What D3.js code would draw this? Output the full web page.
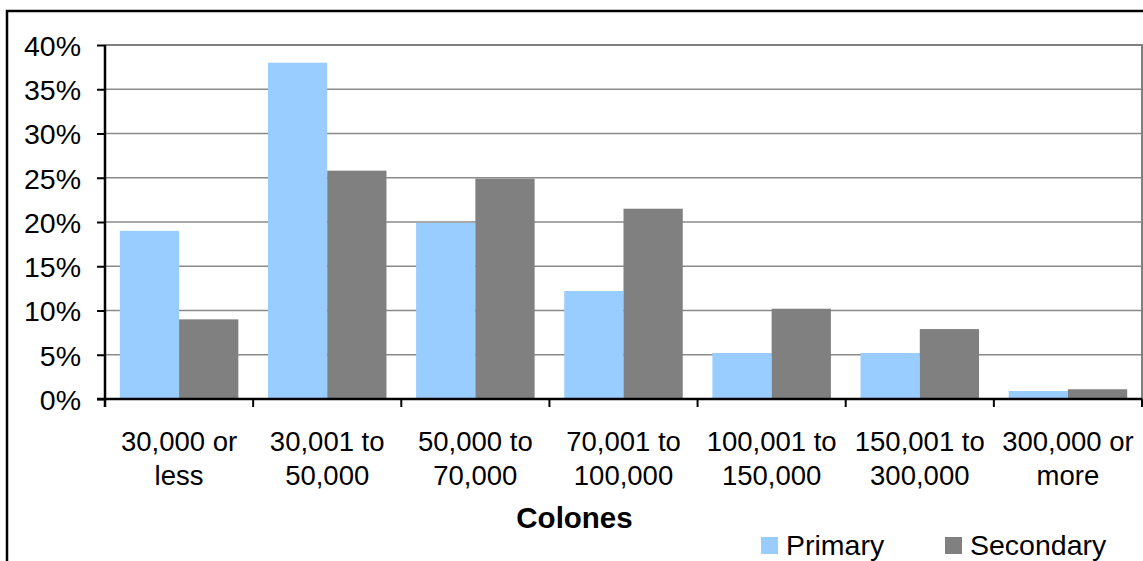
<!DOCTYPE html>
<html>
<head>
<meta charset="utf-8">
<script src="https://cdn.jsdelivr.net/npm/d3@7/dist/d3.min.js"></script>
<style>
  html, body { margin: 0; padding: 0; background: #fff; }
  svg { display: block; }
  text { font-family: "Liberation Sans", Arial, sans-serif; fill: #000; }
</style>
</head>
<body>
<svg id="chart" width="1143" height="561"></svg>
<script>
// Income bands (colones) and share of respondents in each band
const categories = [
  ["30,000 or", "less"],
  ["30,001 to", "50,000"],
  ["50,000 to", "70,000"],
  ["70,001 to", "100,000"],
  ["100,001 to", "150,000"],
  ["150,001 to", "300,000"],
  ["300,000 or", "more"]
];
const seriesNames = ["Primary", "Secondary"];
const primary   = [0.190, 0.380, 0.199, 0.122, 0.052, 0.052, 0.009];
const secondary = [0.090, 0.258, 0.249, 0.215, 0.102, 0.079, 0.011];
const seriesColors = ["#99CCFF", "#808080"];
const yTicks = [0, 0.05, 0.10, 0.15, 0.20, 0.25, 0.30, 0.35, 0.40];
const xTitle = "Colones";

const svg = d3.select("#chart");
const plot = { left: 105, right: 1142, top: 45, bottom: 399 };

// outer frame of the chart object
svg.append("rect")
  .attr("x", 7).attr("y", 11)
  .attr("width", 1150).attr("height", 570)
  .attr("fill", "none").attr("stroke", "#000").attr("stroke-width", 2.5);

const catKeys = categories.map((d, i) => i);
const x0 = d3.scaleBand().domain(catKeys).range([plot.left, plot.right]).padding(0);
const x1 = d3.scaleBand().domain(seriesNames).range([0, x0.bandwidth()])
  .paddingInner(0).paddingOuter(0.25);
const y = d3.scaleLinear().domain([0, 0.40]).range([plot.bottom, plot.top]);

// horizontal gridlines
svg.append("g").selectAll("line")
  .data(yTicks.filter(t => t > 0 && t < 0.40))
  .join("line")
  .attr("x1", plot.left).attr("x2", plot.right)
  .attr("y1", d => y(d)).attr("y2", d => y(d))
  .attr("stroke", "#8a8a8a").attr("stroke-width", 1.3);

// plot area border (top and right)
svg.append("path")
  .attr("d", `M${plot.left},${y(0.40)}H${plot.right}V${plot.bottom}`)
  .attr("fill", "none").attr("stroke", "#808080").attr("stroke-width", 2);

// bars
const data = catKeys.map(i => ({ i, values: [primary[i], secondary[i]] }));
const groups = svg.append("g").selectAll("g")
  .data(data).join("g")
  .attr("transform", d => `translate(${x0(d.i)},0)`);
groups.selectAll("rect")
  .data(d => d.values.map((v, k) => ({ key: seriesNames[k], v, k })))
  .join("rect")
  .attr("x", d => x1(d.key))
  .attr("width", x1.bandwidth())
  .attr("y", d => y(d.v))
  .attr("height", d => y(0) - y(d.v))
  .attr("fill", d => seriesColors[d.k]);

// y axis
const yAxis = d3.axisLeft(y).tickValues(yTicks).tickFormat(d3.format(".0%"))
  .tickSize(8).tickPadding(16);
const gy = svg.append("g").attr("transform", `translate(${plot.left},0)`).call(yAxis);
gy.select(".domain").attr("stroke", "#000").attr("stroke-width", 2.5)
  .attr("d", `M0,${plot.top}V${plot.bottom + 8}`);
gy.selectAll(".tick line").attr("stroke", "#000").attr("stroke-width", 2);
gy.selectAll(".tick text")
  .attr("font-size", 28.5).attr("font-family", "Liberation Sans, Arial, sans-serif")
  .attr("fill", "#000").attr("dy", "0.36em");

// x axis
const xAxis = d3.axisBottom(x0).tickSize(0).tickFormat(() => "");
const gx = svg.append("g").attr("transform", `translate(0,${plot.bottom})`).call(xAxis);
gx.select(".domain").attr("stroke", "#000").attr("stroke-width", 2.5)
  .attr("d", `M${plot.left - 8},0H${plot.right}`);
// tick marks on category boundaries
const bounds = catKeys.map(i => x0(i)).concat([plot.right]);
gx.append("g").selectAll("line").data(bounds).join("line")
  .attr("x1", d => d).attr("x2", d => d)
  .attr("y1", 0).attr("y2", 8)
  .attr("stroke", "#000").attr("stroke-width", 2);

// category labels (two lines)
const labels = svg.append("g").selectAll("text")
  .data(categories.map((c, i) => ({ c, i }))).join("text")
  .attr("text-anchor", "middle")
  .attr("font-size", 27.5)
  .attr("x", d => x0(d.i) + x0.bandwidth() / 2)
  .attr("y", 451);
labels.selectAll("tspan")
  .data(d => d.c.map(line => ({ line, cx: x0(d.i) + x0.bandwidth() / 2 })))
  .join("tspan")
  .attr("x", d => d.cx)
  .attr("dy", (d, k) => k === 0 ? 0 : 34)
  .text(d => d.line);

// axis title
svg.append("text")
  .attr("x", 574.5).attr("y", 528)
  .attr("text-anchor", "middle")
  .attr("font-size", 29.5).attr("font-weight", "bold")
  .text(xTitle);

// legend
const legendX = [761, 945];
const legend = svg.append("g").selectAll("g")
  .data(seriesNames.map((n, k) => ({ n, k }))).join("g")
  .attr("transform", d => `translate(${legendX[d.k]},537)`);
legend.append("rect")
  .attr("width", 17).attr("height", 17)
  .attr("fill", d => seriesColors[d.k]);
legend.append("text")
  .attr("x", 25).attr("y", 18)
  .attr("font-size", 28.5)
  .text(d => d.n);
</script>
</body>
</html>
